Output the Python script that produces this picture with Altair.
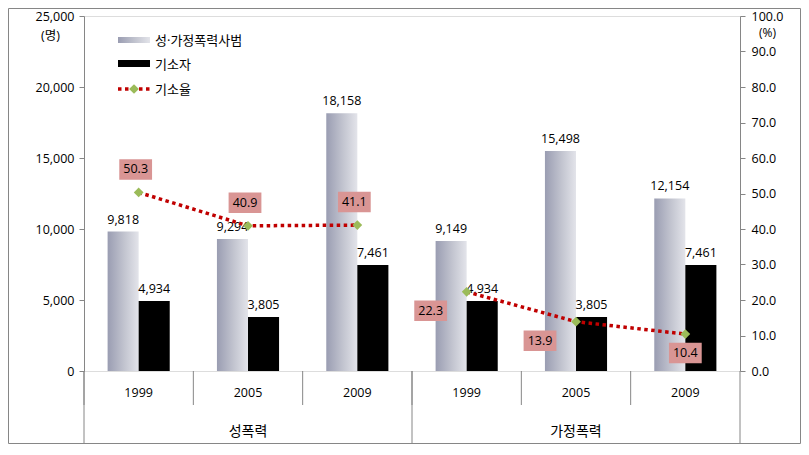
import altair as alt
import pandas as pd

# ---- data ----
groups = ["성폭력", "성폭력", "성폭력", "가정폭력", "가정폭력", "가정폭력"]
years = ["1999", "2005", "2009", "1999", "2005", "2009"]
offenders = [9818, 9294, 18158, 9149, 15498, 12154]   # 성·가정폭력사범
indicted = [4934, 3805, 7461, 4934, 3805, 7461]       # 기소자
rate = [50.3, 40.9, 41.1, 22.3, 13.9, 10.4]           # 기소율 (%)
series_names = ["성·가정폭력사범", "기소자", "기소율"]

cats = [f"{g} {y}" for g, y in zip(groups, years)]

wide = pd.DataFrame({"cat": cats, "group": groups, "year": years,
                     "offenders": offenders, "indicted": indicted, "rate": rate})
long = pd.concat([
    pd.DataFrame({"cat": cats, "series": series_names[0], "value": offenders}),
    pd.DataFrame({"cat": cats, "series": series_names[1], "value": indicted}),
])

W, H = 656, 355
FONT = "Open Sans, Noto Sans CJK KR"
FS = 12.5

xscale = alt.Scale(domain=cats, paddingInner=0, paddingOuter=0)
xenc = alt.X("cat:N", scale=xscale, sort=cats,
             axis=alt.Axis(labels=False, ticks=False, title=None, domainColor="#868686"))
xoff = alt.XOffset("series:N", scale=alt.Scale(domain=series_names[:2], paddingInner=0, paddingOuter=0.76))

yleft_scale = alt.Scale(domain=[0, 25000])
yleft = alt.Y("value:Q", scale=yleft_scale,
              axis=alt.Axis(values=list(range(0, 25001, 5000)), format=",d", grid=False,
                            labelFont=FONT, labelFontSize=FS, labelColor="black",
                            title="(명)", titleAngle=0, titleX=-34, titleY=19,
                            titleAlign="center", titleBaseline="middle", titleFont=FONT,
                            titleFontWeight="normal", titleFontSize=FS, titleColor="black",
                            tickSize=5, domainColor="#868686", tickColor="#868686",
                            labelPadding=5))

gradient = alt.Gradient(gradient="linear", x1=0, x2=1, y1=0, y2=0,
                        stops=[alt.GradientStop(color="#9a9db2", offset=0),
                               alt.GradientStop(color="#c3c5d0", offset=0.55),
                               alt.GradientStop(color="#e3e4ea", offset=1)])

base_bars = alt.Chart(long).encode(x=xenc, xOffset=xoff, y=yleft)
gray_bars = base_bars.transform_filter(alt.datum.series == series_names[0]).mark_bar(color=gradient)
black_bars = base_bars.transform_filter(alt.datum.series == series_names[1]).mark_bar(color="black")
bar_labels = base_bars.mark_text(baseline="bottom", dy=-5, fontSize=FS, font=FONT, color="black").encode(
    text=alt.Text("value:Q", format=",d"))

left = alt.layer(gray_bars, black_bars, bar_labels)

# ---- rate line on right axis ----
yright_scale = alt.Scale(domain=[0, 100])
yright = alt.Y("rate:Q", scale=yright_scale,
               axis=alt.Axis(orient="right", values=list(range(0, 101, 10)), format=".1f", grid=False,
                             labelFont=FONT, labelFontSize=FS, labelColor="black",
                             title="(%)", titleAngle=0, titleX=27, titleY=16,
                             titleAlign="center", titleBaseline="middle", titleFont=FONT,
                             titleFontWeight="normal", titleFontSize=12, titleColor="black",
                             tickSize=5, domainColor="#868686", tickColor="#868686",
                             labelPadding=6))
xline = alt.X("cat:N", scale=xscale, sort=cats, axis=None)
line_base = alt.Chart(wide).encode(x=xline, y=yright)
line = line_base.mark_line(color="#c00000", strokeWidth=3.5, strokeDash=[3.5, 3.5]).encode(detail="group:N")
pts = line_base.mark_point(shape="diamond", size=95, filled=True, color="#9bbb59", opacity=1)

box_shape = "M-1.6,-1H1.6V1H-1.6Z"


def rate_label(filt, dx, dy):
    b = alt.Chart(wide).transform_filter(filt).encode(x=xline, y=yright)
    box = b.mark_point(shape=box_shape, size=420, filled=True, color="#d99594", opacity=1,
                       xOffset=dx, yOffset=dy)
    txt = b.mark_text(fontSize=FS, font=FONT, color="black", dx=dx, dy=dy, baseline="middle").encode(
        text=alt.Text("rate:Q", format=".1f"))
    return box + txt


lab1 = rate_label(alt.datum.group == "성폭력", -3, -23)
lab2 = rate_label(alt.FieldOneOfPredicate(field="cat", oneOf=cats[3:5]), -36, 19)
lab3 = rate_label(alt.datum.cat == cats[5], 0, 19)

right = alt.layer(line, pts, lab1, lab2, lab3)

# ---- two-level category axis ----
cat_df = pd.DataFrame({"cat": cats, "year": years, "group": groups})
sep_short = alt.Chart(cat_df).mark_rule(color="#868686").encode(
    x=alt.X("cat:N", scale=xscale, sort=cats, bandPosition=0, axis=None),
    y=alt.value(H), y2=alt.value(H + 34))
sep_long = alt.Chart(cat_df).transform_filter(alt.datum.year == "1999").mark_rule(color="#868686").encode(
    x=alt.X("cat:N", scale=xscale, sort=cats, bandPosition=0, axis=None),
    y=alt.value(H), y2=alt.value(H + 72))
sep_end = alt.Chart(cat_df).transform_filter(alt.datum.cat == cats[-1]).mark_rule(color="#868686").encode(
    x=alt.X("cat:N", scale=xscale, sort=cats, bandPosition=1, axis=None),
    y=alt.value(H), y2=alt.value(H + 72))
year_text = alt.Chart(cat_df).mark_text(fontSize=FS, font=FONT, color="black", baseline="middle").encode(
    x=alt.X("cat:N", scale=xscale, sort=cats, axis=None), y=alt.value(H + 22), text="year:N")
group_text = alt.Chart(cat_df).transform_filter(alt.datum.year == "2005").mark_text(
    fontSize=14, font=FONT, color="black", baseline="middle").encode(
    x=alt.X("cat:N", scale=xscale, sort=cats, axis=None), y=alt.value(H + 61), text="group:N")

# ---- legend ----
one = pd.DataFrame({"k": [0]})
lg_gray = alt.Chart(one).mark_rect(color=gradient).encode(
    x=alt.value(34), x2=alt.value(66), y=alt.value(21), y2=alt.value(27))
lg_black = alt.Chart(one).mark_rect(color="black").encode(
    x=alt.value(34), x2=alt.value(66), y=alt.value(44), y2=alt.value(51))
lg_line = alt.Chart(one).mark_rule(color="#c00000", strokeWidth=3.5, strokeDash=[3.5, 3.5]).encode(
    x=alt.value(34), x2=alt.value(66), y=alt.value(73))
lg_pt = alt.Chart(one).mark_point(shape="diamond", size=95, filled=True, color="#9bbb59", opacity=1).encode(
    x=alt.value(50), y=alt.value(73))
lg_t1 = alt.Chart(one).mark_text(text=series_names[0], align="left", baseline="middle", fontSize=13,
                                 font=FONT, color="black").encode(x=alt.value(71), y=alt.value(25))
lg_t2 = alt.Chart(one).mark_text(text=series_names[1], align="left", baseline="middle", fontSize=13,
                                 font=FONT, color="black").encode(x=alt.value(71), y=alt.value(49))
lg_t3 = alt.Chart(one).mark_text(text=series_names[2], align="left", baseline="middle", fontSize=13,
                                 font=FONT, color="black").encode(x=alt.value(71), y=alt.value(74))

border = alt.Chart(one).mark_rect(fill=None, stroke="#868686", strokeWidth=1).encode(
    x=alt.value(-75.5), x2=alt.value(W + 60.5), y=alt.value(-7.5), y2=alt.value(H + 72.5))

decor = alt.layer(sep_short, sep_long, sep_end, year_text, group_text,
                  lg_gray, lg_black, lg_line, lg_pt, lg_t1, lg_t2, lg_t3, border)

chart = alt.layer(left, right, decor).resolve_scale(y="independent").properties(
    width=W, height=H,
    autosize=alt.AutoSizeParams(type="none"),
    padding={"left": 76, "top": 8, "right": 61, "bottom": 73},
).configure_view(stroke=None).configure(background="white")

chart.save("out.html", embed_options={"renderer": "svg", "actions": False})
